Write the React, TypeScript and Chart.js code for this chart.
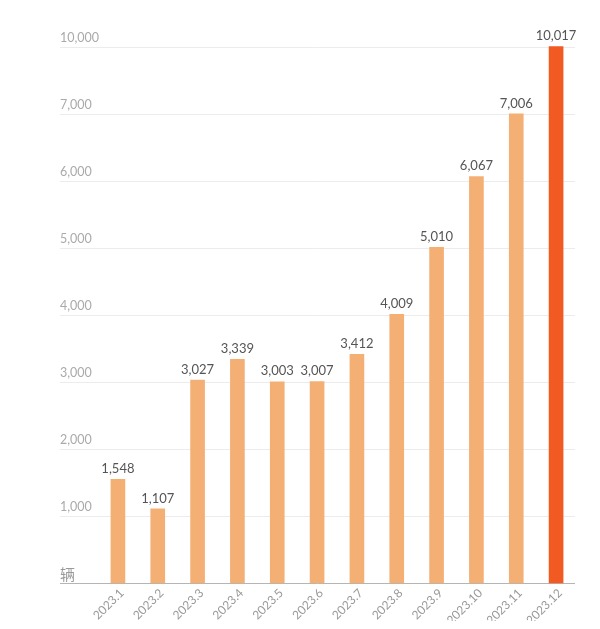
import React, { useEffect, useRef } from "react";
import { Chart, registerables } from "chart.js";

Chart.register(...registerables);

const categories = ["2023.1", "2023.2", "2023.3", "2023.4", "2023.5", "2023.6", "2023.7", "2023.8", "2023.9", "2023.10", "2023.11", "2023.12"];
const sales = [1548, 1107, 3027, 3339, 3003, 3007, 3412, 4009, 5010, 6067, 7006, 10017];
const valueLabels = ["1,548", "1,107", "3,027", "3,339", "3,003", "3,007", "3,412", "4,009", "5,010", "6,067", "7,006", "10,017"];
const yTickLabels = ["辆", "1,000", "2,000", "3,000", "4,000", "5,000", "6,000", "7,000", "10,000"];
const yTickValues = [0, 1000, 2000, 3000, 4000, 5000, 6000, 7000, 10000];

const LIGHT = "#F4AF74";
const HIGHLIGHT = "#F15A22";
const FONT = "Lato, 'Open Sans', sans-serif";

// broken axis: linear up to 7000, then 3000 per step
const toAxis = (v: number) => (v <= 7000 ? v / 1000 : 7 + (v - 7000) / 3000);

export default function App() {
  const ref = useRef<HTMLCanvasElement | null>(null);
  useEffect(() => {
    if (!ref.current) return;
    const decor = {
      id: "decor",
      beforeDatasetsDraw(chart: any) {
        const ctx = chart.ctx;
        const y = chart.scales.y;
        const left = 52;
        const right = 567;
        ctx.save();
        yTickValues.forEach((tv, i) => {
          const py = Math.round(y.getPixelForValue(toAxis(tv))) + 0.5;
          ctx.strokeStyle = i === 0 ? "#b5b5b5" : "#ececec";
          ctx.lineWidth = 1;
          ctx.beginPath();
          ctx.moveTo(left, py);
          ctx.lineTo(right, py);
          ctx.stroke();
          ctx.textAlign = "left";
          ctx.textBaseline = "bottom";
          if (i === 0) {
            ctx.fillStyle = "#999";
            ctx.font = "15px 'Noto Sans CJK SC', sans-serif";
            ctx.fillText(yTickLabels[i], left, py - 2);
          } else {
            ctx.fillStyle = "#aaa";
            ctx.font = "12.5px " + FONT;
            ctx.fillText(yTickLabels[i], left, py - 3);
          }
        });
        ctx.restore();
      },
      afterDatasetsDraw(chart: any) {
        const ctx = chart.ctx;
        const meta = chart.getDatasetMeta(0);
        const base = chart.chartArea.bottom;
        ctx.save();
        ctx.fillStyle = "#555";
        ctx.font = "13px " + FONT;
        ctx.textAlign = "center";
        ctx.textBaseline = "bottom";
        meta.data.forEach((bar: any, i: number) => {
          ctx.fillText(valueLabels[i], bar.x, bar.y - 4);
        });
        ctx.fillStyle = "#999";
        ctx.font = "12px " + FONT;
        ctx.textAlign = "right";
        ctx.textBaseline = "middle";
        meta.data.forEach((bar: any, i: number) => {
          ctx.save();
          ctx.translate(bar.x + 4, base + 8);
          ctx.rotate(-Math.PI / 4);
          ctx.fillText(categories[i], 0, 0);
          ctx.restore();
        });
        ctx.restore();
      },
    };
    const chart = new Chart(ref.current, {
      type: "bar",
      data: {
        labels: categories,
        datasets: [
          {
            data: sales.map(toAxis),
            backgroundColor: sales.map((_, i) => (i === sales.length - 1 ? HIGHLIGHT : LIGHT)),
            barThickness: 14,
            clip: false as any,
          },
        ],
      },
      options: {
        animation: false,
        responsive: true,
        maintainAspectRatio: false,
        layout: { padding: { left: 90, right: 16, top: 39, bottom: 38 } },
        plugins: { legend: { display: false }, tooltip: { enabled: false } },
        scales: {
          y: { display: false, min: 0, max: 8 },
          x: { display: false },
        },
      },
      plugins: [decor],
    });
    return () => chart.destroy();
  }, []);
  return (
    <div style={{ width: 584, height: 613, position: "relative" }}>
      <canvas ref={ref} style={{ display: "block" }} />
    </div>
  );
}
